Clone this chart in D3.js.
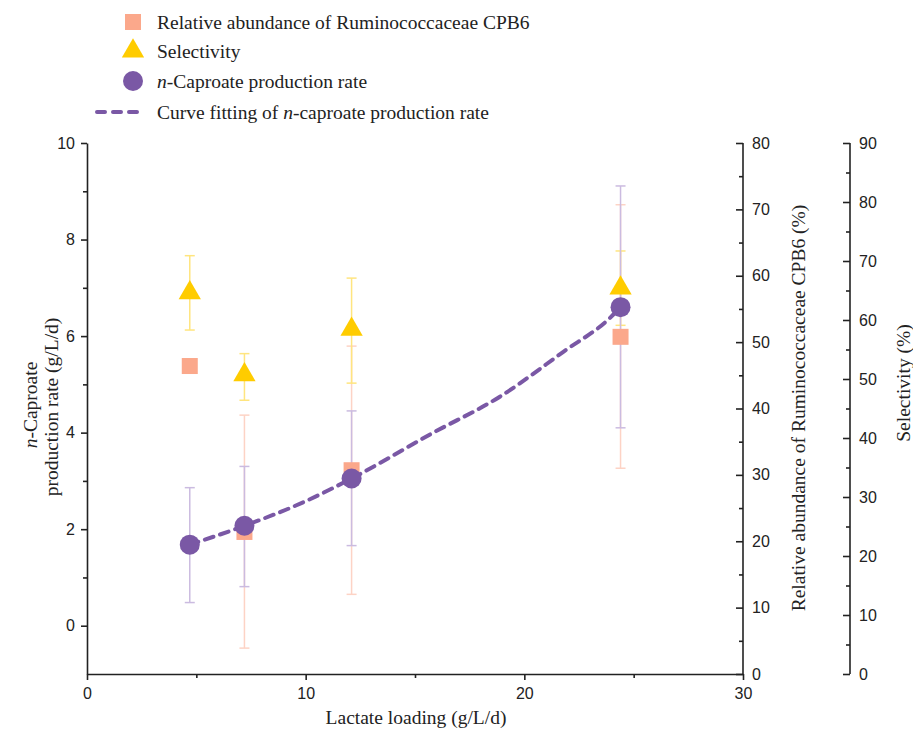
<!DOCTYPE html>
<html><head><meta charset="utf-8">
<script src="https://cdn.jsdelivr.net/npm/d3@7"></script>
<style>body{margin:0;background:#fff}</style>
</head><body>
<svg id="c" width="913" height="731"></svg>
<script>
// ---- data ----
const loading = [4.7, 7.2, 12.1, 24.4];
const rate = [1.68, 2.07, 3.05, 6.6];
const rateLow = [0.48, 0.81, 1.66, 4.1];
const rateHigh = [2.86, 3.30, 4.45, 9.11];
const abundance = [46.4, 21.4, 30.7, 50.8];
const abundLow = [46.4, 3.9, 12.0, 31.0];
const abundHigh = [46.4, 39.0, 49.4, 70.7];
const selectivity = [64.6, 50.7, 58.4, 65.4];
const selLow = [58.3, 46.4, 49.3, 59.1];
const selHigh = [70.9, 54.3, 67.1, 71.7];
const fitX = [4.7, 7.2, 10.0, 12.1, 15.8, 18.9, 21.8, 23.9, 24.4];
const fitY = [1.68, 2.07, 2.58, 3.05, 3.99, 4.75, 5.68, 6.37, 6.6];
const xTicks = [0, 10, 20, 30];
const leftTicks = [0, 2, 4, 6, 8, 10];
const abundTicks = [0, 10, 20, 30, 40, 50, 60, 70, 80];
const selTicks = [0, 10, 20, 30, 40, 50, 60, 70, 80, 90];
const legendLabels = ["Relative abundance of Ruminococcaceae CPB6", "Selectivity", "n-Caproate production rate", "Curve fitting of n-caproate production rate"];

// ---- styles ----
const PURPLE = "#7a58a5", ORANGE = "#fba88b", YELLOW = "#ffcc00";
const PURPLE_L = "#cbbbe0", ORANGE_L = "#fdd3c5", YELLOW_L = "#ffe57f";
const sans = "'Liberation Sans', Arial, sans-serif";
const serif = "'Liberation Serif', 'Times New Roman', serif";
const TFS = 19.5, LFS = 16;

const svg = d3.select("#c");
const pTop = 143, pBottom = 674, pLeft = 87, pRight = 743, selX = 850;

const x = d3.scaleLinear().domain([0, 30]).range([pLeft, pRight]);
const yL = d3.scaleLinear().domain([-1, 10]).range([pBottom, pTop]);
const yA = d3.scaleLinear().domain([0, 80]).range([pBottom, pTop]);
const yS = d3.scaleLinear().domain([0, 90]).range([pBottom, pTop]);

function styleAxis(g) {
  g.selectAll("path").attr("stroke", "#222").attr("stroke-width", 1.6);
  g.selectAll("line").attr("stroke", "#222").attr("stroke-width", 1.6);
  g.selectAll("text").attr("font-family", sans).attr("font-size", LFS).attr("fill", "#222");
}

// bottom axis
const gx = svg.append("g").attr("transform", `translate(0,${pBottom})`)
  .call(d3.axisBottom(x).tickValues(xTicks).tickSize(6).tickPadding(8).tickSizeOuter(0));
styleAxis(gx);
const gxm = svg.append("g").attr("transform", `translate(0,${pBottom})`)
  .call(d3.axisBottom(x).tickValues([5, 15, 25]).tickSize(4).tickFormat("").tickSizeOuter(0));
styleAxis(gxm); gxm.select("path").remove();

// left axis
const gl = svg.append("g").attr("transform", `translate(${pLeft},0)`)
  .call(d3.axisLeft(yL).tickValues(leftTicks).tickSize(6).tickPadding(6).tickSizeOuter(0));
styleAxis(gl);
const glm = svg.append("g").attr("transform", `translate(${pLeft},0)`)
  .call(d3.axisLeft(yL).tickValues([1, 3, 5, 7, 9]).tickSize(4).tickFormat("").tickSizeOuter(0));
styleAxis(glm); glm.select("path").remove();

// right axes: ticks inward, labels right
function rightAxis(xpos, scale, majors, minors) {
  const g = svg.append("g").attr("transform", `translate(${xpos},0)`);
  g.append("line").attr("x1", 0).attr("x2", 0).attr("y1", pTop).attr("y2", pBottom)
    .attr("stroke", "#222").attr("stroke-width", 1.6);
  const ax = g.append("g").call(d3.axisLeft(scale).tickValues(majors).tickSize(7).tickFormat("").tickSizeOuter(0));
  ax.select("path").remove();
  const axm = g.append("g").call(d3.axisLeft(scale).tickValues(minors).tickSize(4).tickFormat("").tickSizeOuter(0));
  axm.select("path").remove();
  g.selectAll("line").attr("stroke", "#222").attr("stroke-width", 1.6);
  g.selectAll("text.lbl").data(majors).join("text").attr("class", "lbl")
    .attr("x", 9).attr("y", d => scale(d)).attr("dy", "0.35em")
    .attr("font-family", sans).attr("font-size", LFS).attr("fill", "#222").text(d => d);
}
rightAxis(pRight, yA, abundTicks, abundTicks.slice(0, -1).map(d => d + 5));
rightAxis(selX, yS, selTicks, selTicks.slice(0, -1).map(d => d + 5));

// axis titles
svg.append("text").attr("x", 416).attr("y", 724).attr("text-anchor", "middle")
  .attr("font-family", serif).attr("font-size", TFS).attr("fill", "#222").text("Lactate loading (g/L/d)");
const lt = svg.append("text").attr("transform", "translate(30,405) rotate(-90)").attr("text-anchor", "middle")
  .attr("dy", "0.35em").attr("font-family", serif).attr("font-size", TFS).attr("fill", "#222");
lt.append("tspan").attr("font-style", "italic").text("n");
lt.append("tspan").text("-Caproate");
svg.append("text").attr("transform", "translate(51,407) rotate(-90)").attr("text-anchor", "middle")
  .attr("dy", "0.35em").attr("font-family", serif).attr("font-size", TFS).attr("fill", "#222").text("production rate (g/L/d)");
svg.append("text").attr("transform", "translate(798,408) rotate(-90)").attr("text-anchor", "middle")
  .attr("dy", "0.35em").attr("font-family", serif).attr("font-size", TFS).attr("fill", "#222").text("Relative abundance of Ruminococcaceae CPB6 (%)");
svg.append("text").attr("transform", "translate(903,383) rotate(-90)").attr("text-anchor", "middle")
  .attr("dy", "0.35em").attr("font-family", serif).attr("font-size", TFS).attr("fill", "#222").text("Selectivity (%)");

// error bars
function errBars(lo, hi, scale, color) {
  const g = svg.append("g").attr("stroke", color).attr("stroke-width", 1.5);
  loading.forEach((lx, i) => {
    if (lo[i] === hi[i]) return;
    const cx = x(lx);
    g.append("line").attr("x1", cx).attr("x2", cx).attr("y1", scale(lo[i])).attr("y2", scale(hi[i]));
    g.append("line").attr("x1", cx - 5).attr("x2", cx + 5).attr("y1", scale(lo[i])).attr("y2", scale(lo[i]));
    g.append("line").attr("x1", cx - 5).attr("x2", cx + 5).attr("y1", scale(hi[i])).attr("y2", scale(hi[i]));
  });
}
errBars(abundLow, abundHigh, yA, ORANGE_L);
errBars(selLow, selHigh, yS, YELLOW_L);
errBars(rateLow, rateHigh, yL, PURPLE_L);

// squares
svg.append("g").selectAll("rect").data(loading).join("rect")
  .attr("x", (d) => x(d) - 8).attr("y", (d, i) => yA(abundance[i]) - 8)
  .attr("width", 16).attr("height", 16).attr("fill", ORANGE);
// triangles
const tri = d3.symbol().type(d3.symbolTriangle).size(215);
svg.append("g").selectAll("path").data(loading).join("path")
  .attr("d", tri).attr("transform", (d, i) => `translate(${x(d)},${yS(selectivity[i])})`).attr("fill", YELLOW);
// fit curve
const line = d3.line().x(d => x(d[0])).y(d => yL(d[1])).curve(d3.curveMonotoneX);
svg.append("path").datum(fitX.map((v, i) => [v, fitY[i]])).attr("d", line)
  .attr("fill", "none").attr("stroke", PURPLE).attr("stroke-width", 4)
  .attr("stroke-dasharray", "9,7").attr("stroke-linecap", "round");
// circles
svg.append("g").selectAll("circle").data(loading).join("circle")
  .attr("cx", d => x(d)).attr("cy", (d, i) => yL(rate[i])).attr("r", 10).attr("fill", PURPLE);

// legend
const lg = svg.append("g");
const ly = [22, 51, 81, 112];
lg.append("rect").attr("x", 125).attr("y", ly[0] - 8).attr("width", 16).attr("height", 16).attr("fill", ORANGE);
lg.append("path").attr("d", tri).attr("transform", `translate(133,${ly[1]})`).attr("fill", YELLOW);
lg.append("circle").attr("cx", 133).attr("cy", ly[2]).attr("r", 10).attr("fill", PURPLE);
lg.append("line").attr("x1", 97).attr("x2", 140).attr("y1", ly[3]).attr("y2", ly[3])
  .attr("stroke", PURPLE).attr("stroke-width", 4).attr("stroke-dasharray", "8,8").attr("stroke-linecap", "round");
legendLabels.forEach((t, i) => {
  const tx = lg.append("text").attr("x", 157).attr("y", ly[i]).attr("dy", "0.35em")
    .attr("font-family", serif).attr("font-size", TFS).attr("fill", "#222");
  if (i === 2) {
    tx.append("tspan").attr("font-style", "italic").text("n");
    tx.append("tspan").text("-Caproate production rate");
  } else if (i === 3) {
    tx.append("tspan").text("Curve fitting of ");
    tx.append("tspan").attr("font-style", "italic").text("n");
    tx.append("tspan").text("-caproate production rate");
  } else tx.text(t);
});
</script>
</body></html>
